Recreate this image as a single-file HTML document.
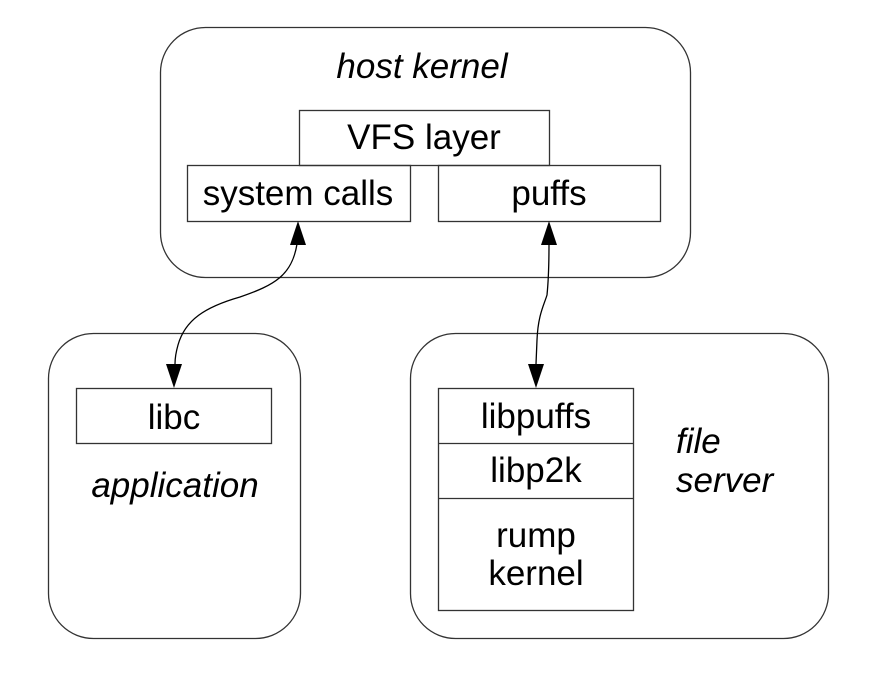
<!DOCTYPE html>
<html><head><style>
html,body{margin:0;padding:0;background:#fff;}
svg{display:block;}
text{font-family:"Liberation Sans",Arial,sans-serif;font-size:35px;fill:#000;}
.i{font-style:italic;}
</style></head><body>
<svg width="869" height="675" viewBox="0 0 869 675" xmlns="http://www.w3.org/2000/svg">
<g fill="none" stroke="#333" stroke-width="1.3">
<rect x="160.5" y="27.5" width="530" height="250" rx="45" ry="45"/>
<rect x="48.5" y="333.5" width="252" height="305" rx="45" ry="45"/>
<rect x="410.5" y="333.5" width="418" height="305" rx="45" ry="45"/>
<rect x="299.5" y="110.5" width="250" height="55"/>
<rect x="187.5" y="165.5" width="223" height="56"/>
<rect x="438.5" y="165.5" width="222" height="56"/>
<rect x="76.5" y="388.5" width="195" height="55"/>
<rect x="438.5" y="388.5" width="195" height="222"/>
<line x1="438.5" y1="443.5" x2="633.5" y2="443.5"/>
<line x1="438.5" y1="498.5" x2="633.5" y2="498.5"/>
</g>
<g fill="none" stroke="#000" stroke-width="1.3">
<path d="M297,244 C292,275 275,285 240,297 C205,307 185,320 178,345 C176,352 175,358 175,364"/>
<path d="M549,244 C549,270 548,285 547,295 C544,305 538,315 537,340 L536,364"/>
</g>
<g fill="#000">
<polygon points="298,221 290,245 306,245"/>
<polygon points="174,388 166,364 182,364"/>
<polygon points="549,221 541,245 557,245"/>
<polygon points="536,388 528,364 544,364"/>
</g>
<text class="i" x="422" y="78" text-anchor="middle">host kernel</text>
<text x="424" y="149" text-anchor="middle">VFS layer</text>
<text x="298" y="205" text-anchor="middle">system calls</text>
<text x="549" y="205" text-anchor="middle">puffs</text>
<text x="174" y="429" text-anchor="middle">libc</text>
<text class="i" x="175" y="497" text-anchor="middle">application</text>
<text x="536" y="428" text-anchor="middle">libpuffs</text>
<text x="536" y="482" text-anchor="middle">libp2k</text>
<text x="536" y="547" text-anchor="middle">rump</text>
<text x="536" y="585" text-anchor="middle">kernel</text>
<text class="i" x="676" y="453">file</text>
<text class="i" x="676" y="492">server</text>
</svg>
</body></html>
